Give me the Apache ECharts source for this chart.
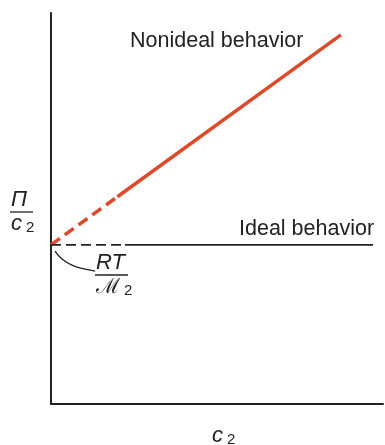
<!DOCTYPE html>
<html>
<head>
<meta charset="utf-8">
<script src="https://cdn.jsdelivr.net/npm/echarts@6/dist/echarts.min.js"></script>
<style>
  html, body { margin: 0; padding: 0; background: #fff; }
  #chart { width: 385px; height: 445px; }
</style>
</head>
<body>
<div id="chart"></div>
<script>
// Reduced osmotic pressure Π/c2 against concentration c2 (schematic units)
const intercept = 4.07;                 // RT / M2
// Nonideal behaviour: extrapolated (dashed) part and measured (solid) part
const nonidealDashed = [[0, intercept], [2.0, 5.30]];
const nonidealSolid = [[2.0, 5.30], [8.73, 9.44]];
// Ideal behaviour: horizontal line at RT/M2
const idealDashed = [[0, intercept], [2.23, intercept]];
const idealSolid = [[2.23, intercept], [9.70, intercept]];
// Leader from the intercept to the RT/M2 label
const leaderX = [0.12, 0.33, 0.63, 1.03, 1.33];
const leaderY = [3.91, 3.71, 3.55, 3.45, 3.40];

const RED = '#dc4a2c';
const INK = '#222';
const FONT = '"Liberation Sans", Arial, sans-serif';

const chart = echarts.init(document.getElementById('chart'));

const hiddenAxis = (extra) => Object.assign({
  type: 'value', min: 0, max: 10,
  axisLine: { show: true, lineStyle: { color: INK, width: 2 } },
  axisTick: { show: false },
  axisLabel: { show: false },
  splitLine: { show: false }
}, extra);

const sub = { font: '15px ' + FONT, padding: [7, 0, 0, 4] };

chart.setOption({
  animation: false,
  grid: { left: 51, right: 2, top: 13, bottom: 41 },
  xAxis: hiddenAxis({}),
  yAxis: hiddenAxis({}),
  series: [
    { type: 'line', data: nonidealDashed, symbol: 'none',
      lineStyle: { color: RED, width: 3.5, type: [11, 6] } },
    { type: 'line', data: nonidealSolid, symbol: 'none',
      lineStyle: { color: RED, width: 3.5 } },
    { type: 'line', data: idealDashed, symbol: 'none',
      lineStyle: { color: INK, width: 1.6, type: [10, 5] } },
    { type: 'line', data: idealSolid, symbol: 'none',
      lineStyle: { color: INK, width: 1.6 } },
    { type: 'line', data: leaderX.map((x, i) => [x, leaderY[i]]), symbol: 'none',
      smooth: true, lineStyle: { color: INK, width: 1.3 } }
  ],
  graphic: [
    { type: 'text', left: 130, top: 30,
      style: { text: 'Nonideal behavior', font: '21.5px ' + FONT, fill: INK } },
    { type: 'text', left: 239, top: 218,
      style: { text: 'Ideal behavior', font: '21.5px ' + FONT, fill: INK } },
    // Π / c2 on the vertical axis
    { type: 'text', left: 11, top: 189,
      style: { text: 'Π', font: 'italic 22px ' + FONT, fill: INK } },
    { type: 'line', shape: { x1: 10, y1: 212, x2: 33, y2: 212 },
      style: { stroke: INK, lineWidth: 1.3 } },
    { type: 'text', left: 11, top: 213,
      style: { text: '{c|c}{s|2}', fill: INK,
        rich: { c: { font: 'italic 22px ' + FONT }, s: sub } } },
    // RT / M2 at the intercept
    { type: 'text', left: 96, top: 252,
      style: { text: 'RT', font: 'italic 22px ' + FONT, fill: INK } },
    { type: 'line', shape: { x1: 95, y1: 275, x2: 128, y2: 275 },
      style: { stroke: INK, lineWidth: 1.3 } },
    { type: 'text', left: 96, top: 277,
      style: { text: '{m|ℳ}{s|2}', fill: INK,
        rich: { m: { font: '21px "DejaVu Serif", serif' }, s: sub } } },
    // c2 under the horizontal axis
    { type: 'text', left: 212, top: 425,
      style: { text: '{c|c}{s|2}', fill: INK,
        rich: { c: { font: 'italic 22px ' + FONT }, s: sub } } }
  ]
});
</script>
</body>
</html>
